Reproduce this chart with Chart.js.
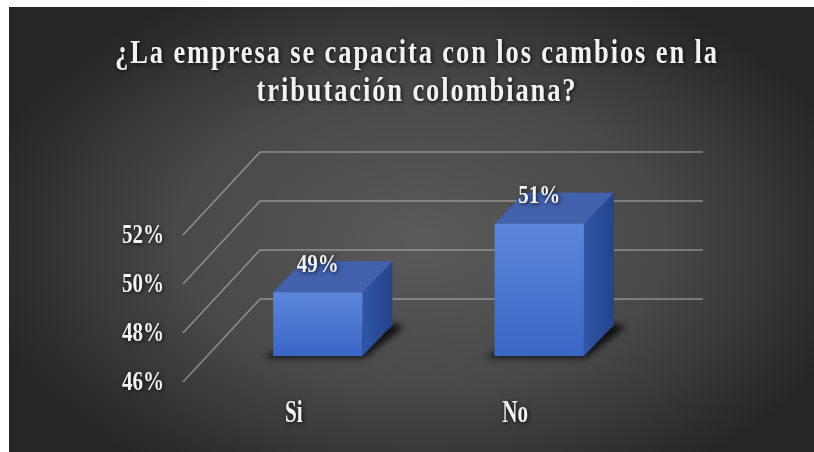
<!DOCTYPE html>
<html>
<head>
<meta charset="utf-8">
<script src="https://cdn.jsdelivr.net/npm/chart.js@4/dist/chart.umd.min.js"></script>
<style>
    html, body { margin: 0; padding: 0; background: #fff; }
    #chart { display: block; }
</style>
</head>
<body>
<canvas id="chart" width="814" height="452"></canvas>
<script>
// ===== Données =====
const categories = ["Si", "No"];
const percentages = [48.6, 51.4];
const tickValues = [46, 48, 50, 52];
const tickLabels = ["46%", "48%", "50%", "52%"];
const titleLines = ["¿La empresa se capacita con los cambios en la", "tributación colombiana?"];

// ===== Réglages 3D =====
const WALL_DX = 77, WALL_DY = -83;   // profondeur du mur du fond
const BAR_SHIFT_X = 24, BAR_SHIFT_Y = -26; // position des barres dans la profondeur
const BAR_DX = 30, BAR_DY = -31;     // épaisseur des barres
const SERIF = '"Liberation Serif", "Times New Roman", serif';

// Texte blanc avec ombre, compressé horizontalement
function drawText(ctx, text, x, y, size, sx, align, baseline, spacing) {
    ctx.save();
    ctx.translate(x, y);
    ctx.scale(sx, 1);
    ctx.font = "bold " + size + "px " + SERIF;
    ctx.textAlign = align || "center";
    ctx.textBaseline = baseline || "middle";
    if (spacing) ctx.letterSpacing = spacing + "px";
    ctx.shadowColor = "rgba(0,0,0,0.85)";
    ctx.shadowBlur = 4;
    ctx.shadowOffsetX = 1;
    ctx.shadowOffsetY = 1;
    ctx.fillStyle = "#f2f2f2";
    ctx.fillText(text, 0, 0);
    ctx.restore();
}

const background = {
    id: "background",
    beforeDraw(chart) {
        const ctx = chart.ctx;
        ctx.save();
        ctx.fillStyle = "#ffffff";
        ctx.fillRect(0, 0, chart.width, chart.height);
        // dégradé radial elliptique
        ctx.translate(420, 240);
        ctx.scale(1.6, 1);
        const g = ctx.createRadialGradient(0, 0, 0, 0, 0, 280);
        g.addColorStop(0, "#5a5a5a");
        g.addColorStop(0.55, "#484848");
        g.addColorStop(1, "#262626");
        ctx.fillStyle = g;
        ctx.fillRect((9 - 420) / 1.6, 7 - 240, (814 - 9) / 1.6, 452 - 7);
        ctx.restore();
    }
};

const wall = {
    id: "wall",
    beforeDatasetsDraw(chart) {
        const ctx = chart.ctx;
        const y = chart.scales.y;
        const area = chart.chartArea;
        ctx.save();
        ctx.strokeStyle = "rgba(190,190,190,0.6)";
        ctx.lineWidth = 1.5;
        tickValues.forEach(v => {
            const py = y.getPixelForValue(v);
            ctx.beginPath();
            ctx.moveTo(area.left, py);
            ctx.lineTo(area.left + WALL_DX, py + WALL_DY);
            ctx.lineTo(area.right + WALL_DX, py + WALL_DY);
            ctx.stroke();
        });
        ctx.restore();
    }
};

const bars3d = {
    id: "bars3d",
    afterDatasetsDraw(chart) {
        const ctx = chart.ctx;
        const meta = chart.getDatasetMeta(0);
        meta.data.forEach((bar, i) => {
            const x0 = bar.x - bar.width / 2 + BAR_SHIFT_X;
            const x1 = bar.x + bar.width / 2 + BAR_SHIFT_X;
            const top = bar.y + BAR_SHIFT_Y;
            const bottom = bar.base + BAR_SHIFT_Y;

            // ombre au sol
            ctx.save();
            ctx.filter = "blur(3px)";
            ctx.fillStyle = "rgba(0,0,0,0.75)";
            ctx.beginPath();
            ctx.moveTo(x0 - 10, bottom + 2);
            ctx.lineTo(x1 + 2, bottom + 2);
            ctx.lineTo(x1 + BAR_DX + 12, bottom + BAR_DY + 2);
            ctx.lineTo(x1 + BAR_DX, bottom + BAR_DY - 2);
            ctx.lineTo(x0, bottom - 4);
            ctx.closePath();
            ctx.fill();
            ctx.restore();

            ctx.save();
            // face de côté
            const gs = ctx.createLinearGradient(x1, 0, x1 + BAR_DX, 0);
            gs.addColorStop(0, "#2f56a6");
            gs.addColorStop(1, "#24438a");
            ctx.fillStyle = gs;
            ctx.beginPath();
            ctx.moveTo(x1, top);
            ctx.lineTo(x1 + BAR_DX, top + BAR_DY);
            ctx.lineTo(x1 + BAR_DX, bottom + BAR_DY);
            ctx.lineTo(x1, bottom);
            ctx.closePath();
            ctx.fill();

            // face du dessus
            ctx.fillStyle = "#4262ad";
            ctx.beginPath();
            ctx.moveTo(x0, top);
            ctx.lineTo(x0 + BAR_DX, top + BAR_DY);
            ctx.lineTo(x1 + BAR_DX, top + BAR_DY);
            ctx.lineTo(x1, top);
            ctx.closePath();
            ctx.fill();

            // face avant
            const gf = ctx.createLinearGradient(0, top, 0, bottom);
            gf.addColorStop(0, "#5c87d9");
            gf.addColorStop(1, "#3a66c6");
            ctx.fillStyle = gf;
            ctx.fillRect(x0, top, x1 - x0, bottom - top);
            ctx.restore();

            // étiquette de valeur
            const label = Math.round(percentages[i]) + "%";
            drawText(ctx, label, (x0 + x1) / 2, top - 27, 25, 0.84);
        });
    }
};

const labels = {
    id: "labels",
    afterDraw(chart) {
        const ctx = chart.ctx;
        const x = chart.scales.x;
        const y = chart.scales.y;
        // axe Y
        tickValues.forEach((v, i) => {
            drawText(ctx, tickLabels[i], 164, y.getPixelForValue(v) + 1, 27, 0.78, "right");
        });
        // catégories
        categories.forEach((c, i) => {
            drawText(ctx, c, x.getPixelForValue(i), 414, 32, 0.66);
        });
        // titre
        drawText(ctx, titleLines[0], 417, 63, 34, 0.78, "center", "alphabetic", 2.4);
        drawText(ctx, titleLines[1], 417, 101, 34, 0.78, "center", "alphabetic", 2.4);
    }
};

new Chart(document.getElementById("chart"), {
    type: "bar",
    data: {
        labels: categories,
        datasets: [{
            data: percentages,
            base: tickValues[0],
            backgroundColor: "rgba(0,0,0,0)",
            borderWidth: 0,
            barPercentage: 0.403,
            categoryPercentage: 1
        }]
    },
    options: {
        responsive: false,
        animation: false,
        devicePixelRatio: 1,
        layout: { padding: { left: 183, right: 188, top: 235, bottom: 70 } },
        scales: {
            x: { display: false },
            y: { display: false, min: 46, max: 52 }
        },
        plugins: {
            legend: { display: false },
            tooltip: { enabled: false },
            title: { display: false }
        }
    },
    plugins: [background, wall, bars3d, labels]
});
</script>
</body>
</html>
